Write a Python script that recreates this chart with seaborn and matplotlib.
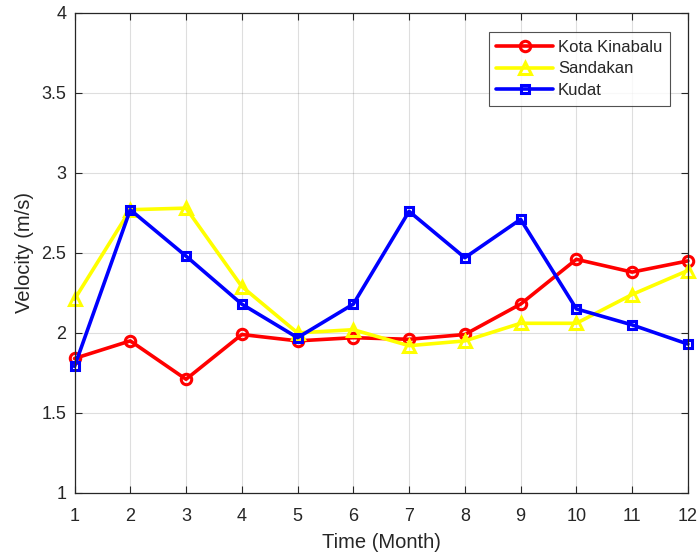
import seaborn as sns
import pandas as pd
from matplotlib import pyplot as plt
from matplotlib.ticker import FuncFormatter

# monthly mean velocity per station
months = list(range(1, 13))
kota_kinabalu = [1.84, 1.95, 1.71, 1.99, 1.95, 1.97, 1.96, 1.99, 2.18, 2.46, 2.38, 2.45]
sandakan = [2.21, 2.77, 2.78, 2.29, 2.00, 2.02, 1.92, 1.95, 2.06, 2.06, 2.24, 2.39]
kudat = [1.79, 2.77, 2.48, 2.18, 1.97, 2.18, 2.76, 2.47, 2.71, 2.15, 2.05, 1.93]

stations = ["Kota Kinabalu", "Sandakan", "Kudat"]
colors = ["#ff0000", "#ffff00", "#0000ff"]
markers = ["o", "^", "s"]
msizes = [7.5, 9, 6]

df = pd.DataFrame({
    "Month": months * 3,
    "Velocity": kota_kinabalu + sandakan + kudat,
    "Station": [s for s in stations for _ in months],
})

sns.set_style("white")
plt.rcParams["font.family"] = ["Liberation Sans", "DejaVu Sans"]

fig = plt.figure(figsize=(6.99, 5.55), dpi=100)
ax = fig.add_axes([0.1066, 0.112, 0.8775, 0.8646])

for name, c, m, ms in zip(stations, colors, markers, msizes):
    sns.lineplot(data=df[df["Station"] == name], x="Month", y="Velocity",
                 color=c, marker=m, markersize=ms, markerfacecolor="none",
                 markeredgecolor=c, markeredgewidth=2.2, linewidth=2.6,
                 label=name, ax=ax, clip_on=False)

ax.set_xlim(1, 12)
ax.set_ylim(1, 4)
ax.set_xticks(months)
ax.set_yticks([1, 1.5, 2, 2.5, 3, 3.5, 4])
ax.yaxis.set_major_formatter(FuncFormatter(lambda v, p: f"{v:g}"))
ax.grid(True, color="#262626", alpha=0.15, linewidth=0.8)
ax.tick_params(direction="in", length=5, width=0.8, colors="#262626",
               labelsize=13, top=True, right=True, bottom=True, left=True)
ax.tick_params(axis="x", pad=11)
ax.tick_params(axis="y", pad=6)
for sp in ax.spines.values():
    sp.set_color("#262626")
    sp.set_linewidth(0.9)
ax.set_xlabel("Time (Month)", fontsize=14.5, color="#262626", labelpad=6)
ax.set_ylabel("Velocity (m/s)", fontsize=14.5, color="#262626", labelpad=5)

leg = ax.legend(loc="upper right", bbox_to_anchor=(0.9705, 0.96), fontsize=12,
                frameon=True, fancybox=False, handlelength=3.4,
                borderpad=0.45, labelspacing=0.4, handletextpad=0.3,
                borderaxespad=0)
leg.get_frame().set_edgecolor("#262626")
leg.get_frame().set_linewidth(0.8)

plt.savefig("out.png", dpi=100)
